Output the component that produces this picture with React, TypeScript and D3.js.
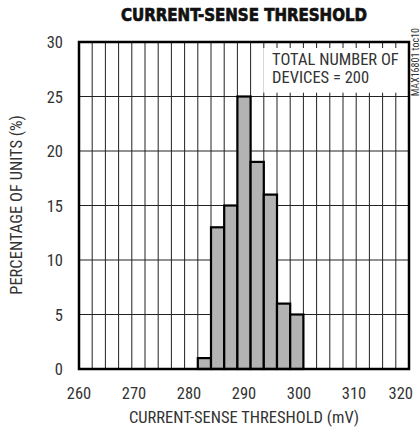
import React, { useRef, useEffect } from 'react';
import * as d3 from 'd3';

// histogram bins: start of each 2.4 mV bin and percentage of units
const binStarts = [281.6, 284, 286.4, 288.8, 291.2, 293.6, 296, 298.4];
const percentages = [1, 13, 15, 25, 19, 16, 6, 5];
const binWidth = 2.4;
const xTicks = [260, 270, 280, 290, 300, 310, 320];
const yTicks = [0, 5, 10, 15, 20, 25, 30];

const FONT = "'Liberation Sans Narrow', 'Roboto Condensed', 'DejaVu Sans Condensed', sans-serif";

const App: React.FC = () => {
    const svgRef = useRef<SVGSVGElement | null>(null);
    const width = 420;
    const height = 433;
    const margin = { top: 42, right: 11, bottom: 64, left: 79 };

    useEffect(() => {
        if (!svgRef.current) return;
        const svg = d3.select(svgRef.current);
        svg.selectAll('*').remove();

        const x = d3.scaleLinear()
            .domain([260, 320])
            .range([margin.left, width - margin.right]);
        const y = d3.scaleLinear()
            .domain([0, 30])
            .range([height - margin.bottom, margin.top]);

        svg.append('rect').attr('width', width).attr('height', height).attr('fill', '#fff');

        // vertical grid every 2.4 mV
        const vGrid = d3.range(1, 25).map(i => 260 + i * binWidth);
        svg.append('g')
            .selectAll('line')
            .data(vGrid)
            .join('line')
            .attr('x1', d => x(d)).attr('x2', d => x(d))
            .attr('y1', y(30)).attr('y2', y(0))
            .attr('stroke', '#222').attr('stroke-width', 1);

        svg.append('g')
            .selectAll('line')
            .data(yTicks.slice(1, -1))
            .join('line')
            .attr('x1', x(260)).attr('x2', x(320))
            .attr('y1', d => y(d)).attr('y2', d => y(d))
            .attr('stroke', '#222').attr('stroke-width', 1);

        // note box masking the grid
        svg.append('rect')
            .attr('x', x(293.5)).attr('y', y(30) + 6)
            .attr('width', x(319.6) - x(293.5)).attr('height', y(25.35) - y(30) - 6)
            .attr('fill', '#fff');
        const note = svg.append('text')
            .attr('font-family', FONT).attr('font-size', 16.5).attr('fill', '#333');
        note.append('tspan').attr('x', x(295.1)).attr('y', 65).text('TOTAL NUMBER OF');
        note.append('tspan').attr('x', x(295.1)).attr('y', 83).text('DEVICES = 200');

        // bars
        svg.append('g')
            .selectAll('rect')
            .data(binStarts)
            .join('rect')
            .attr('x', d => x(d))
            .attr('width', x(260 + binWidth) - x(260))
            .attr('y', (d, i) => y(percentages[i]))
            .attr('height', (d, i) => y(0) - y(percentages[i]))
            .attr('fill', '#b3b3b3')
            .attr('stroke', '#000')
            .attr('stroke-width', 2.2);

        // frame
        svg.append('rect')
            .attr('x', x(260)).attr('y', y(30))
            .attr('width', x(320) - x(260)).attr('height', y(0) - y(30))
            .attr('fill', 'none').attr('stroke', '#000').attr('stroke-width', 2.5);

        // tick labels (last one kept inside the picture)
        svg.append('g')
            .selectAll('text')
            .data(xTicks)
            .join('text')
            .attr('x', (d, i) => i === xTicks.length - 1 ? x(d) + 4 : x(d))
            .attr('y', 399)
            .attr('text-anchor', (d, i) => i === xTicks.length - 1 ? 'end' : 'middle')
            .attr('font-family', FONT).attr('font-size', 16.5).attr('fill', '#333')
            .text(d => d);
        svg.append('g')
            .selectAll('text')
            .data(yTicks)
            .join('text')
            .attr('x', 63).attr('y', d => y(d) + 6)
            .attr('text-anchor', 'end')
            .attr('font-family', FONT).attr('font-size', 16.5).attr('fill', '#333')
            .text(d => d);

        // titles
        svg.append('text')
            .attr('x', 244).attr('y', 21)
            .attr('text-anchor', 'middle')
            .attr('font-family', "'DejaVu Sans Condensed', 'DejaVu Sans', sans-serif")
            .attr('font-stretch', 'condensed')
            .attr('font-weight', 'bold').attr('font-size', 18)
            .attr('textLength', 246).attr('lengthAdjust', 'spacingAndGlyphs')
            .attr('fill', '#111').attr('stroke', '#111').attr('stroke-width', 0.7)
            .text('CURRENT-SENSE THRESHOLD');
        svg.append('text')
            .attr('x', 244).attr('y', 423)
            .attr('text-anchor', 'middle')
            .attr('font-family', FONT).attr('font-size', 16.5).attr('fill', '#333')
            .text('CURRENT-SENSE THRESHOLD (mV)');
        svg.append('text')
            .attr('transform', 'translate(22,205) rotate(-90)')
            .attr('text-anchor', 'middle')
            .attr('font-family', FONT).attr('font-size', 16.5).attr('fill', '#333')
            .text('PERCENTAGE OF UNITS (%)');
        svg.append('text')
            .attr('transform', 'translate(419,28) rotate(-90)')
            .attr('text-anchor', 'end')
            .attr('font-family', FONT).attr('font-size', 10).attr('fill', '#333')
            .text('MAX16801 toc10');
    }, []);

    return (
        <svg ref={svgRef} width={width} height={height}
            style={{ position: 'absolute', left: 0, top: 0 }} />
    );
};

export default App;
